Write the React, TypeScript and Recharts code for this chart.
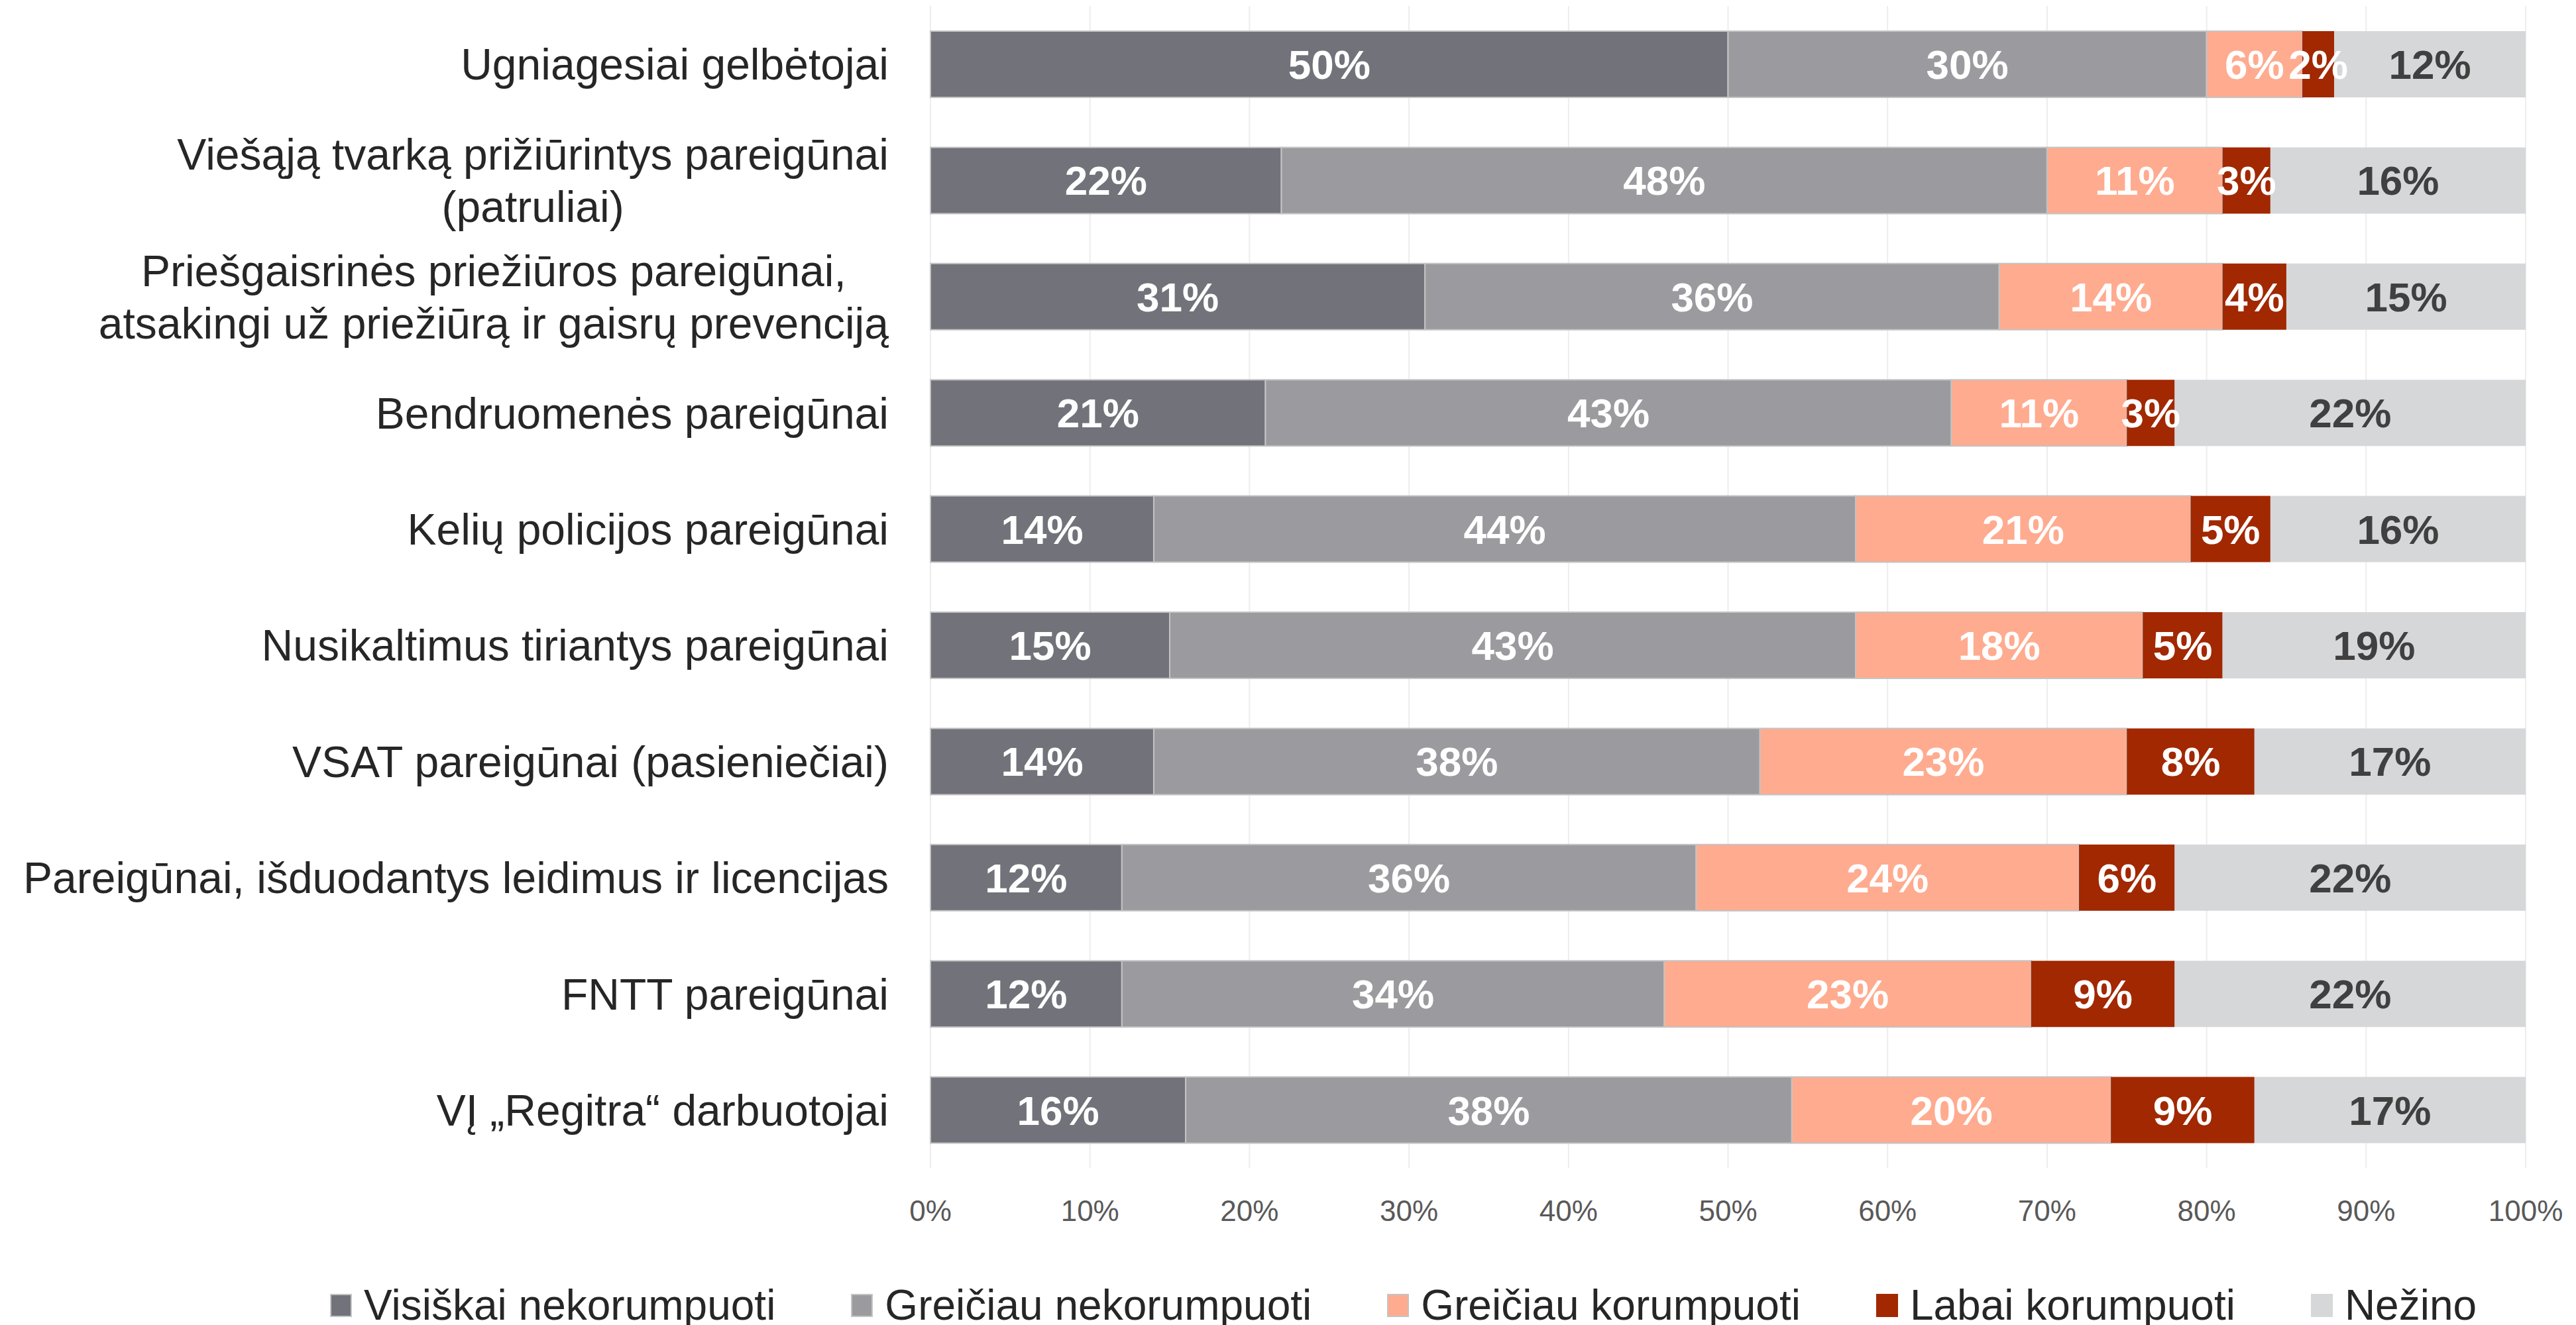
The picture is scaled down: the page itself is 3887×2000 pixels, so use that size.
import { Bar, BarChart, CartesianGrid, LabelList, Legend, XAxis, YAxis } from "recharts";

const categories = [
  "Ugniagesiai gelbėtojai",
  "Viešąją tvarką prižiūrintys pareigūnai\n(patruliai)",
  "Priešgaisrinės priežiūros pareigūnai,\natsakingi už priežiūrą ir gaisrų prevenciją",
  "Bendruomenės pareigūnai",
  "Kelių policijos pareigūnai",
  "Nusikaltimus tiriantys pareigūnai",
  "VSAT pareigūnai (pasieniečiai)",
  "Pareigūnai, išduodantys leidimus ir licencijas",
  "FNTT pareigūnai",
  "VĮ „Regitra“ darbuotojai",
];

const visiskaiNekorumpuoti = [50, 22, 31, 21, 14, 15, 14, 12, 12, 16];
const greiciauNekorumpuoti = [30, 48, 36, 43, 44, 43, 38, 36, 34, 38];
const greiciauKorumpuoti = [6, 11, 14, 11, 21, 18, 23, 24, 23, 20];
const labaiKorumpuoti = [2, 3, 4, 3, 5, 5, 8, 6, 9, 9];
const nezino = [12, 16, 15, 22, 16, 19, 17, 22, 22, 17];

const xTicks = [0, 10, 20, 30, 40, 50, 60, 70, 80, 90, 100];

const series = [
  { key: "a", name: "Visiškai nekorumpuoti", color: "#72727A", label: "#FFFFFF", stroke: "#C4C4C4" },
  { key: "b", name: "Greičiau nekorumpuoti", color: "#9B9B9F", label: "#FFFFFF", stroke: "#C4C4C4" },
  { key: "c", name: "Greičiau korumpuoti", color: "#FFAB8F", label: "#FFFFFF", stroke: "#C4C4C4" },
  { key: "d", name: "Labai korumpuoti", color: "#A12800", label: "#FFFFFF", stroke: undefined },
  { key: "e", name: "Nežino", color: "#D6D7D9", label: "#404040", stroke: undefined },
];

const data = categories.map((name, i) => ({
  name,
  a: visiskaiNekorumpuoti[i],
  b: greiciauNekorumpuoti[i],
  c: greiciauKorumpuoti[i],
  d: labaiKorumpuoti[i],
  e: nezino[i],
}));

const FONT = '"Liberation Sans", Arial, sans-serif';

let ctx: CanvasRenderingContext2D | null = null;
function measure(text: string, size: number) {
  if (!ctx) {
    ctx = document.createElement("canvas").getContext("2d");
  }
  if (!ctx) return text.length * size * 0.5;
  ctx.font = `${size}px "Liberation Sans", Arial, sans-serif`;
  return ctx.measureText(text).width;
}

function CategoryTick({ x, y, payload }: any) {
  const lines = String(payload.value).split("\n");
  const size = 66;
  const lh = 79;
  const right = x - 63;
  if (lines.length === 1) {
    return (
      <text x={right} y={y} dy="0.36em" textAnchor="end" fontSize={size} fill="#262626" fontFamily={FONT}>
        {lines[0]}
      </text>
    );
  }
  const maxW = Math.max(...lines.map((l) => measure(l, size)));
  const cx = right - maxW / 2;
  const start = y - ((lines.length - 1) * lh) / 2;
  return (
    <text textAnchor="middle" fontSize={size} fill="#262626" fontFamily={FONT}>
      {lines.map((l, i) => (
        <tspan key={i} x={cx} y={start + i * lh} dy="0.36em">
          {l}
        </tspan>
      ))}
    </text>
  );
}

function LegendContent() {
  return (
    <div style={{ display: "flex", alignItems: "center", fontFamily: FONT, fontSize: 64, color: "#262626", whiteSpace: "nowrap" }}>
      {series.map((s) => (
        <div key={s.key} style={{ display: "flex", alignItems: "center", marginRight: 114 }}>
          <span
            style={{
              display: "inline-block",
              width: 33,
              height: 35,
              background: s.color,
              boxSizing: "border-box",
              border: s.stroke ? `2px solid ${s.stroke}` : "none",
              marginRight: 18,
            }}
          />
          <span style={{ lineHeight: "80px" }}>{s.name}</span>
        </div>
      ))}
    </div>
  );
}

export default function App() {
  return (
    <div style={{ position: "absolute", left: 0, top: 0, width: 3887, height: 2000, background: "#fff" }}>
      <BarChart
        width={3887}
        height={2000}
        data={data}
        layout="vertical"
        margin={{ top: 9, right: 76, left: 0, bottom: 137 }}
        barSize={100}
      >
        <CartesianGrid horizontal={false} stroke="#EDEDED" strokeWidth={2} />
        <XAxis
          type="number"
          domain={[0, 100]}
          ticks={xTicks}
          tickFormatter={(v) => `${v}%`}
          axisLine={false}
          tickLine={false}
          tickSize={0}
          tickMargin={49}
          height={100}
          interval={0}
          tick={{ fontSize: 44, fill: "#595959", fontFamily: FONT }}
        />
        <YAxis
          type="category"
          dataKey="name"
          width={1404}
          axisLine={false}
          tickLine={false}
          tickSize={0}
          tickMargin={0}
          interval={0}
          tick={<CategoryTick />}
        />
        <Legend
          layout="horizontal"
          verticalAlign="middle"
          align="center"
          wrapperStyle={{ top: 1930, left: 498, width: "auto" }}
          content={<LegendContent />}
        />
        {series.map((s) => (
          <Bar
            key={s.key}
            dataKey={s.key}
            name={s.name}
            stackId="x"
            fill={s.color}
            stroke={s.stroke}
            strokeWidth={s.stroke ? 2 : 0}
            isAnimationActive={false}
          >
            <LabelList
              dataKey={s.key}
              position="center"
              formatter={(v: any) => `${v}%`}
              fill={s.label}
              fontSize={62}
              fontWeight="bold"
              fontFamily={FONT}
            />
          </Bar>
        ))}
      </BarChart>
    </div>
  );
}
